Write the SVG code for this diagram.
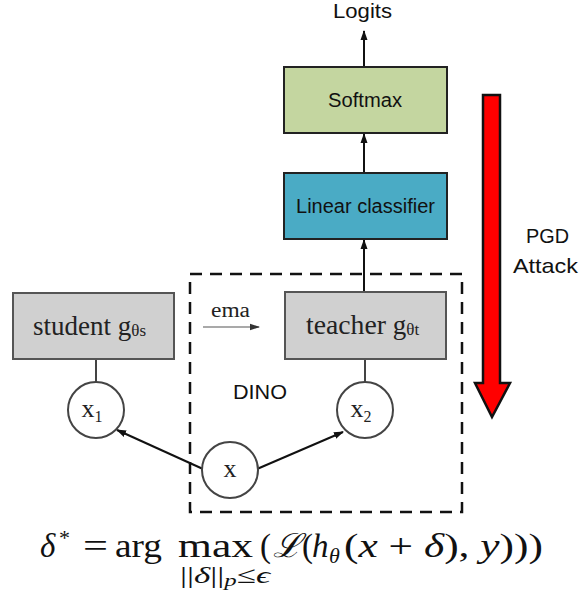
<svg xmlns="http://www.w3.org/2000/svg" width="582" height="596" viewBox="0 0 582 596">
<style>
.box{stroke:#222;stroke-width:2}
.gray{fill:#d0d0d0;stroke:#555;stroke-width:2}
.circ{fill:#fff;stroke:#444;stroke-width:2}
.sans{font-family:"Liberation Sans","DejaVu Sans",sans-serif;fill:#111}
.serif{font-family:"Liberation Serif","DejaVu Serif",serif;fill:#222}
.math{font-family:"Liberation Serif","DejaVu Serif",serif;fill:#111}
.conn{stroke:#111;stroke-width:2;fill:none}
</style>
<defs>
<marker id="ah" markerWidth="10" markerHeight="10" refX="9" refY="5" orient="auto" markerUnits="userSpaceOnUse">
<path d="M0,1.5 L10,5 L0,8.5 Z" fill="#111"/>
</marker>
<marker id="ahs" markerWidth="10" markerHeight="8" refX="9" refY="4" orient="auto" markerUnits="userSpaceOnUse">
<path d="M0,0.8 L10,4 L0,7.2 Z" fill="#333"/>
</marker>
</defs>

<g id="dino-frame">
<rect x="190" y="274" width="272" height="238" fill="none" stroke="#111" stroke-width="2.5" stroke-dasharray="12,8"/>
<text x="233" y="399" class="sans" font-size="20" textLength="54" lengthAdjust="spacingAndGlyphs">DINO</text>
</g>

<g id="connectors">
<line class="conn" x1="364" y1="67" x2="364" y2="31" marker-end="url(#ah)"/>
<line class="conn" x1="364" y1="173" x2="364" y2="134" marker-end="url(#ah)"/>
<line class="conn" x1="364" y1="292" x2="364" y2="240" marker-end="url(#ah)"/>
<line x1="96" y1="359" x2="96" y2="382" stroke="#444" stroke-width="2"/>
<line x1="365" y1="359" x2="365" y2="382" stroke="#444" stroke-width="2"/>
<line class="conn" x1="203" y1="469" x2="117" y2="430" marker-end="url(#ah)"/>
<line class="conn" x1="257" y1="469" x2="343" y2="432" marker-end="url(#ah)"/>
<line x1="203" y1="327" x2="259" y2="327" stroke="#555" stroke-width="1.2" marker-end="url(#ahs)"/>
<text x="211" y="317" class="serif" font-size="20" textLength="39" lengthAdjust="spacingAndGlyphs">ema</text>
</g>

<g id="logits">
<text x="333" y="18" class="sans" font-size="21" textLength="59" lengthAdjust="spacingAndGlyphs">Logits</text>
</g>

<g id="softmax">
<rect x="284" y="67" width="163" height="66" fill="#c4d6a0" class="box"/>
<text x="328" y="107" class="sans" font-size="20" textLength="74" lengthAdjust="spacingAndGlyphs">Softmax</text>
</g>

<g id="linear-classifier">
<rect x="284" y="173" width="163" height="66" fill="#4aabc5" class="box"/>
<text x="296" y="213" class="sans" font-size="20" textLength="139" lengthAdjust="spacingAndGlyphs">Linear classifier</text>
</g>

<g id="student">
<rect x="13" y="293" width="161" height="66" class="gray"/>
<text x="33" y="335" class="serif" font-size="27"><tspan textLength="78" lengthAdjust="spacingAndGlyphs">student</tspan> g<tspan font-size="17" dy="1">θs</tspan></text>
</g>

<g id="teacher">
<rect x="285" y="292" width="161" height="67" class="gray"/>
<text x="306" y="334" class="serif" font-size="27"><tspan textLength="80" lengthAdjust="spacingAndGlyphs">teacher</tspan> g<tspan font-size="17" dy="1">θt</tspan></text>
</g>

<g id="x1">
<circle cx="96" cy="410" r="28" class="circ"/>
<text x="92" y="417" class="serif" font-size="26" text-anchor="middle">x<tspan font-size="16" dy="5">1</tspan></text>
</g>

<g id="x2">
<circle cx="365" cy="410" r="28" class="circ"/>
<text x="361" y="417" class="serif" font-size="26" text-anchor="middle">x<tspan font-size="16" dy="5">2</tspan></text>
</g>

<g id="x">
<circle cx="230" cy="470" r="28" class="circ"/>
<text x="230" y="477" class="serif" font-size="26" text-anchor="middle">x</text>
</g>

<g id="pgd-attack">
<polygon points="483,95 500,95 500,383 510,383 492,417 475,383 483,383" fill="#ff0000" stroke="#111" stroke-width="2.5" stroke-linejoin="miter"/>
<text x="526" y="243" class="sans" font-size="21" textLength="43" lengthAdjust="spacingAndGlyphs">PGD</text>
<text x="513" y="273" class="sans" font-size="21" textLength="65" lengthAdjust="spacingAndGlyphs">Attack</text>
</g>

<g id="formula" class="math">
<text x="40" y="557" font-size="33" font-style="italic">δ</text>
<text x="59" y="545" font-size="22">*</text>
<text x="83" y="557" font-size="33" textLength="25" lengthAdjust="spacingAndGlyphs">=</text>
<text x="115" y="557" font-size="33" textLength="47" lengthAdjust="spacingAndGlyphs">arg</text>
<text x="178" y="557" font-size="33" textLength="75" lengthAdjust="spacingAndGlyphs">max</text>
<text x="180" y="583" font-size="24" textLength="90" lengthAdjust="spacingAndGlyphs"><tspan>||</tspan><tspan font-style="italic">δ</tspan><tspan>||</tspan><tspan font-style="italic" font-size="17" dy="3">p</tspan><tspan dy="-3">≤</tspan><tspan font-style="italic">ϵ</tspan></text>
<text x="260" y="557" font-size="33">(</text>
<text x="273" y="557" font-size="33" font-style="italic" textLength="28" lengthAdjust="spacingAndGlyphs">ℒ</text>
<text x="302" y="557" font-size="33">(</text>
<text x="312" y="557" font-size="33" font-style="italic">h</text>
<text x="329" y="563" font-size="22" font-style="italic">θ</text>
<text x="344" y="557" font-size="33" textLength="199" lengthAdjust="spacingAndGlyphs">(<tspan font-style="italic">x</tspan> + <tspan font-style="italic">δ</tspan>), <tspan font-style="italic">y</tspan>)))</text>
</g>
</svg>
